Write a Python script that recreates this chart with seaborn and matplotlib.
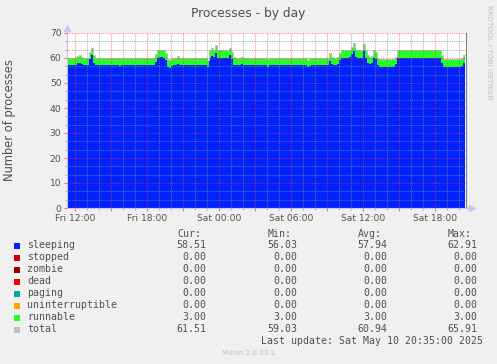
import matplotlib
matplotlib.use('Agg')
import matplotlib.pyplot as plt
import matplotlib.dates as mdates
from matplotlib.ticker import MultipleLocator, FuncFormatter
from matplotlib.patches import Rectangle
import seaborn as sns
import numpy as np
import pandas as pd

# sleeping processes, 10 minute samples starting Fri 11:20
sleeping = [
    57, 57, 57, 57, 57.2, 57.8, 58, 57.5, 57, 57,
    57, 59.5, 61, 58, 57, 57, 57, 57, 57, 57,
    57, 57, 57.1, 57, 57, 57, 56.9, 57, 57, 57,
    57, 57, 57, 57, 57, 57, 57, 57, 57, 57,
    57, 57, 57, 57, 58.5, 60, 60.2, 60.2, 60, 59,
    56.5, 56.03, 56.8, 57, 57, 57.6, 57, 57, 57, 57,
    57, 57, 57, 57, 57, 57, 57, 57, 57, 57,
    56.3, 60, 60.8, 60.3, 62, 60, 60, 60.1, 60.1, 60,
    60, 61, 59.5, 57.2, 57, 57, 57, 57.4, 57, 57,
    57, 57, 57, 57, 57, 57, 57, 57, 57, 57,
    56.4, 57, 57, 57, 57, 57, 57, 57, 57, 57,
    57, 57, 57, 57, 57, 57, 57, 57, 57, 57,
    56.3, 56.8, 57, 57, 57, 57, 57, 57, 57, 57,
    57, 58.8, 57.5, 57, 57, 57.5, 59, 60, 60, 60,
    60, 60.2, 61.5, 62.91, 60.3, 60, 60, 60, 62.7, 60,
    58, 57.5, 57.8, 60, 59.5, 57, 56.4, 56.4, 56.4, 56.4,
    56.4, 56.4, 56.4, 56.4, 57.5, 60, 60, 60, 60, 60,
    60, 60, 60, 60, 60, 60, 60, 60, 60, 60,
    60, 60, 60, 60, 60, 60, 60, 58, 56.5, 56.5,
    56.5, 56.5, 56.5, 56.5, 56.5, 56.5, 56.5, 56.8, 58, 58.51,
]
n = len(sleeping)
stopped = [0.0] * n
zombie = [0.0] * n
dead = [0.0] * n
paging = [0.0] * n
uninterruptible = [0.0] * n
runnable = [3.0] * n

names = ['sleeping', 'stopped', 'zombie', 'dead', 'paging', 'uninterruptible', 'runnable', 'total']
colors = ['#0022ff', '#cc0000', '#990000', '#ff0000', '#00aaaa', '#ffa500', '#22ff22', '#c0c0c0']
cur = ['58.51', '0.00', '0.00', '0.00', '0.00', '0.00', '3.00', '61.51']
mins = ['56.03', '0.00', '0.00', '0.00', '0.00', '0.00', '3.00', '59.03']
avgs = ['57.94', '0.00', '0.00', '0.00', '0.00', '0.00', '3.00', '60.94']
maxs = ['62.91', '0.00', '0.00', '0.00', '0.00', '0.00', '3.00', '65.91']

times = pd.date_range('2025-05-09 11:20', periods=n, freq='10min')
W, H = 497, 364
TXT = '#505050'


def fx(px):
    return px / W


def fy(py):
    return 1 - py / H


def main():
    sns.set_theme(style='white')
    plt.rcParams['font.family'] = ['DejaVu Sans']

    fig = plt.figure(figsize=(W / 100, H / 100), dpi=100, facecolor='#f0f0f0')
    ax = fig.add_axes([fx(67), fy(208), 399 / W, 175 / H])
    ax.set_facecolor('white')

    series = [sleeping, stopped, zombie, dead, paging, uninterruptible, runnable]
    bottom = np.zeros(n)
    for vals, col in zip(series, colors[:7]):
        top = bottom + np.array(vals)
        ax.fill_between(times, bottom, top, step='post', color=col, linewidth=0, zorder=1)
        bottom = top
    total = bottom
    sns.lineplot(x=times, y=total, color='#c0c0c0', lw=0.7, drawstyle='steps-post',
                 ax=ax, legend=False, zorder=2)

    ax.set_xlim(pd.Timestamp('2025-05-09 11:21'), pd.Timestamp('2025-05-10 20:36'))
    ax.set_ylim(0, 70)
    ax.set_xlabel('')
    ax.set_ylabel('')

    ax.xaxis.set_major_locator(mdates.HourLocator(byhour=range(0, 24, 3)))
    ax.xaxis.set_minor_locator(mdates.HourLocator())

    def fmt(x, pos):
        d = mdates.num2date(x)
        return d.strftime('%a %H:%M') if d.hour % 6 == 0 else ''
    ax.xaxis.set_major_formatter(FuncFormatter(fmt))
    ax.yaxis.set_major_locator(MultipleLocator(10))
    ax.yaxis.set_minor_locator(MultipleLocator(10 / 3))

    ax.set_axisbelow(False)
    ax.grid(which='major', color='#ff3030', alpha=0.55, linestyle=(0, (1, 1)), lw=0.8)
    ax.grid(which='minor', color='#8c8c8c', alpha=0.65, linestyle=(0, (1, 1)), lw=0.8)

    ax.tick_params(which='major', length=2.5, width=0.8, color='#ff7070',
                   labelsize=6.6, labelcolor=TXT, pad=1.5, bottom=True, left=True)
    ax.tick_params(which='minor', length=1.5, width=0.8, color='#b0b0b0', bottom=True, left=True)

    ax.spines['top'].set_visible(False)
    ax.spines['right'].set_color('#808080')
    ax.spines['right'].set_linewidth(0.8)
    for s in ['left', 'bottom']:
        ax.spines[s].set_color('#c8c8e6')
        ax.spines[s].set_linewidth(0.8)

    # axis arrows
    ax.plot([0, 0], [1, 1.025], color='#c8c8e6', lw=0.8, transform=ax.transAxes, clip_on=False)
    ax.plot([0], [1.03], marker='^', ms=4, color='#c8c8f0', transform=ax.transAxes, clip_on=False)
    ax.plot([1, 1.012], [0, 0], color='#c8c8e6', lw=0.8, transform=ax.transAxes, clip_on=False)
    ax.plot([1.015], [0], marker='>', ms=4, color='#c8c8f0', transform=ax.transAxes, clip_on=False)

    fig.text(0.5, fy(14), 'Processes - by day', ha='center', va='center', fontsize=8.8, color=TXT)
    fig.text(fx(10), fy(120), 'Number of processes', rotation=90, ha='center', va='center',
             fontsize=8.3, color=TXT)
    fig.text(fx(489), fy(5), 'RRDTOOL / TOBI OETIKER', rotation=270, ha='center', va='top',
             fontsize=5.3, color='#c0c0c0')

    mono = dict(family='DejaVu Sans Mono', fontsize=7.1, color=TXT, va='center')
    heads = ['Cur:', 'Min:', 'Avg:', 'Max:']
    head_x = [177, 268, 358, 448]
    val_x = [206, 297, 387, 477]
    for h, x in zip(heads, head_x):
        fig.text(fx(x), fy(234), h, ha='left', **mono)
    for i, name in enumerate(names):
        y = 245.5 + 12 * i
        fig.add_artist(Rectangle((fx(14), fy(y + 3)), 6 / W, 6 / H, transform=fig.transFigure,
                                 facecolor=colors[i], edgecolor='none'))
        fig.text(fx(27), fy(y), name, ha='left', **mono)
        for col, x in zip([cur, mins, avgs, maxs], val_x):
            fig.text(fx(x), fy(y), col[i], ha='right', **mono)
    fig.text(fx(483), fy(341.5), 'Last update: Sat May 10 20:35:00 2025', ha='right', **mono)
    fig.text(0.5, fy(353), 'Munin 2.0.33-1', ha='center', va='center', fontsize=5, color='#c0c0c0')

    fig.savefig('out.png', dpi=100, facecolor=fig.get_facecolor())


if __name__ == '__main__':
    main()
